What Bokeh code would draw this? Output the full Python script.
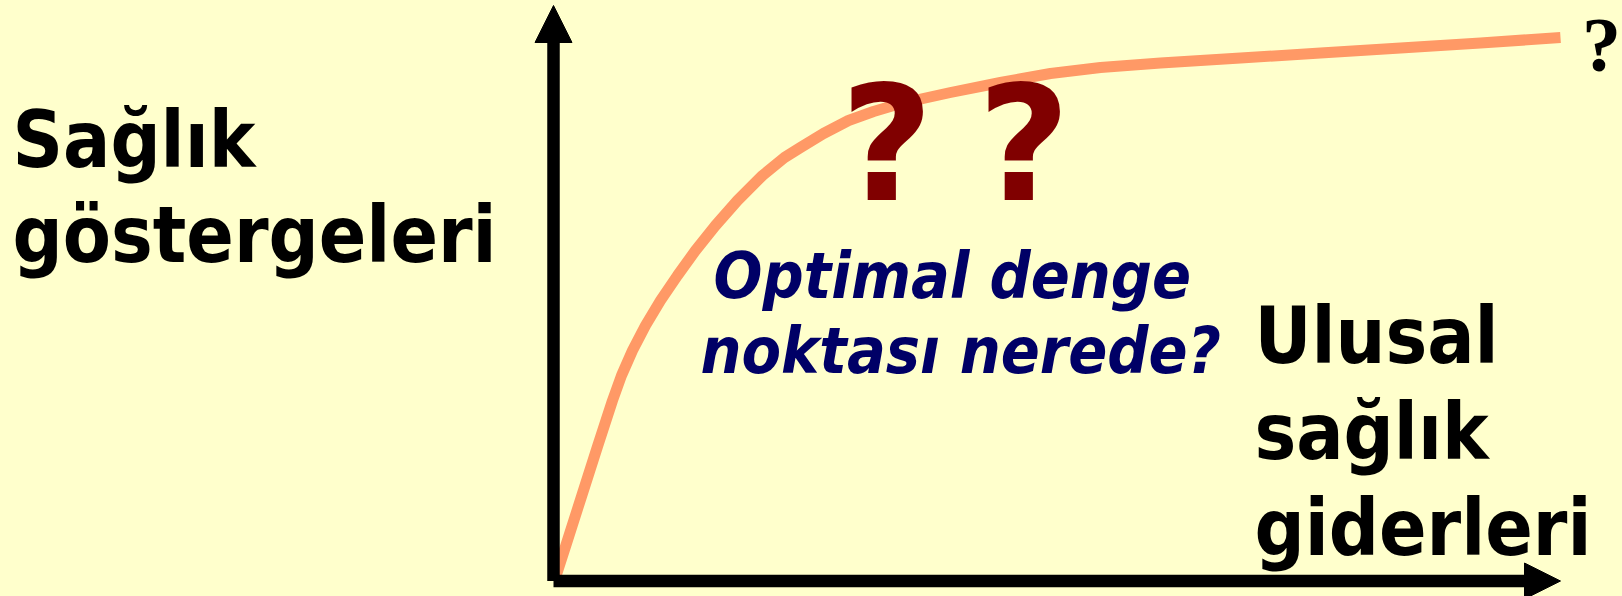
from bokeh.plotting import figure
from bokeh.models import Range1d, Arrow, NormalHead, Label
from bokeh.embed import file_html
from bokeh.resources import INLINE

# ---- data (arbitrary units) ----
spending = [0.2, 1.2, 2.8, 4.4, 5.9, 6.8, 7.9, 9.2, 10.7, 12.4, 14.2, 16.2,
            18.4, 20.9, 23.1, 24.7, 27.0, 29.5, 32.0, 34.7, 39.7, 44.7, 49.7,
            54.7, 60.7, 68.7, 76.7, 84.7, 92.7, 100.7]
health = [0.7, 6.9, 16.9, 26.9, 36.1, 41.1, 46.1, 51.1, 56.1, 61.1, 66.1, 71.1,
          76.1, 81.1, 84.7, 86.7, 89.5, 92.1, 93.9, 95.5, 97.7, 99.7, 101.5,
          102.7, 103.6, 104.6, 105.6, 106.6, 107.6, 108.7]

y_title_lines = ["Sağlık", "göstergeleri"]
x_title_lines = ["Ulusal", "sağlık", "giderleri"]
question_lines = ["Optimal denge", "noktası nerede?"]
big_marks = ["?", "?"]
end_mark = "?"

# ---- layout / style ----
BG = "#FFFFCC"
SANS = "'DejaVu Sans Condensed', 'DejaVu Sans'"

p = figure(width=1622, height=596,
           x_range=Range1d(-55.3, 106.9), y_range=Range1d(-3.1, 116.1),
           x_axis_type=None, y_axis_type=None,
           output_backend="svg", toolbar_location=None, min_border=0,
           background_fill_color=BG, border_fill_color=BG,
           outline_line_color=None)
p.grid.visible = False

# axes as arrows
p.add_layout(Arrow(end=NormalHead(size=37, fill_color="black", line_color="black", line_width=1),
                   x_start=0, y_start=0, x_end=0, y_end=115.1,
                   line_width=12.5, line_color="black"))
p.add_layout(Arrow(end=NormalHead(size=36, fill_color="black", line_color="black", line_width=1),
                   x_start=0, y_start=0, x_end=100.7, y_end=0,
                   line_width=12.5, line_color="black"))

# curve
p.line(x=spending, y=health, line_color="#FF9966", line_width=11, line_join="round")

# left title
for txt, yy in zip(y_title_lines, [88.2, 69.2]):
    p.add_layout(Label(x=-54.1, y=yy, text=txt, text_font=SANS, text_font_size="78px",
                       text_font_style="bold", text_color="black",
                       text_baseline="alphabetic", text_align="left"))

# right title
for txt, yy in zip(x_title_lines, [49.0, 29.8, 10.6]):
    p.add_layout(Label(x=70.1, y=yy, text=txt, text_font=SANS, text_font_size="78px",
                       text_font_style="bold", text_color="black",
                       text_baseline="alphabetic", text_align="left"))

# italic question
for txt, xx, yy in zip(question_lines, [16.0, 14.7], [61.0, 46.0]):
    p.add_layout(Label(x=xx, y=yy, text=txt, text_font=SANS, text_font_size="64px",
                       text_font_style="bold italic", text_color="#000066",
                       text_baseline="alphabetic", text_align="left"))

# big dark red question marks
for txt, xx in zip(big_marks, [33.35, 47.05]):
    p.add_layout(Label(x=xx, y=87.3, text=txt, text_font="DejaVu Sans", text_font_size="160px",
                       text_font_style="bold", text_color="#800000",
                       text_baseline="alphabetic", text_align="center"))

# question mark at curve end
p.add_layout(Label(x=104.8, y=107.4, text=end_mark,
                   text_font="'Liberation Serif', 'Times New Roman', serif",
                   text_font_size="78px", text_font_style="bold", text_color="black",
                   text_baseline="alphabetic", text_align="center"))

html = file_html(p, INLINE)
html = html.replace("<head>", "<head><style>html, body {background: #FFFFCC;}</style>", 1)
open("out.html", "w").write(html)
